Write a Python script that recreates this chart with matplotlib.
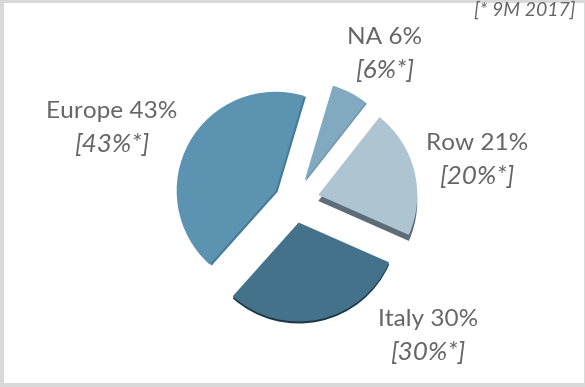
import matplotlib.pyplot as plt
from matplotlib.patches import Rectangle

plt.rcParams['font.family'] = ['Lato', 'DejaVu Sans']

# share of revenues by area
areas = ['Europe', 'Italy', 'Row', 'NA']
shares = [43, 30, 21, 6]
shares_9m = [43, 30, 20, 6]

colors = ['#5c93b1', '#45728b', '#aec4d1', '#81a9c0']
edge_colors = ['#477c99', '#1c3547', '#5d6c79', '#6d95ac']
explode = [21, 22, 25, 23]
depth = [(2, -1), (0, -2), (0, -6), (1, -1)]
label_pos = [(112, 112), (428, 319), (477, 143), (385, 38)]
text_color = '#666666'

fig = plt.figure(figsize=(5.85, 3.87), dpi=100, facecolor='#d9d9d9')
ax = fig.add_axes([0, 0, 1, 1])

# white panel inside the grey frame
ax.add_patch(Rectangle((4, 4), 580, 380, facecolor='white', edgecolor='none', zorder=0))

center = (294, 387 - 201)
start = 73.4
radius = 99

# dark copy below the pie gives the slices their thickness
wedges, _ = ax.pie(shares, colors=edge_colors, explode=explode, center=center, radius=radius,
                   startangle=start, counterclock=True, frame=True,
                   wedgeprops={'linewidth': 0, 'zorder': 1})
for w, d in zip(wedges, depth):
    w.set_center((w.center[0] + d[0], w.center[1] + d[1]))

ax.pie(shares, colors=colors, explode=explode, center=center, radius=radius,
       startangle=start, counterclock=True, frame=True,
       wedgeprops={'linewidth': 0, 'zorder': 2})

for area, s, s9, (x, y) in zip(areas, shares, shares_9m, label_pos):
    ax.text(x, 387 - y, f'{area} {s}%', ha='center', va='center', fontsize=17.6,
            color=text_color, zorder=3)
    ax.text(x, 387 - y - 33, f'[{s9}%*]', ha='center', va='center', fontsize=18.8,
            color=text_color, fontstyle='italic', zorder=3)

ax.text(575, 387 - 10, '[* 9M 2017]', ha='right', va='center', fontsize=14,
        color=text_color, fontstyle='italic', zorder=3)

ax.set_xlim(0, 585)
ax.set_ylim(0, 387)
ax.set_aspect('equal')
ax.axis('off')

fig.savefig('out.png', dpi=100, facecolor=fig.get_facecolor())
